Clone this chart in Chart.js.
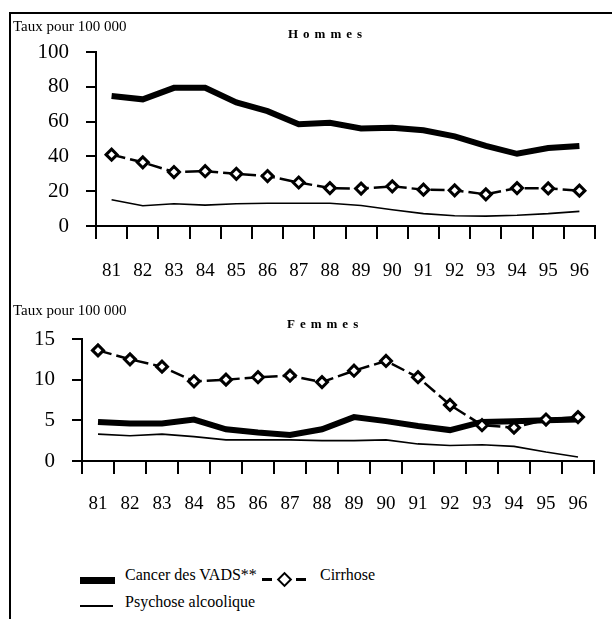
<!DOCTYPE html>
<html>
<head>
<meta charset="utf-8">
<script src="https://cdn.jsdelivr.net/npm/chart.js@4/dist/chart.umd.min.js"></script>
<style>
  body { margin: 0; background: #fff; }
  #page { position: relative; width: 612px; height: 619px; overflow: hidden; font-family: "Liberation Serif", "Times New Roman", serif; color: #000; }
  #frame { position: absolute; left: 9px; top: 12px; width: 620px; height: 620px; border-top: 2px solid #000; border-left: 2px solid #000; }
  canvas { position: absolute; left: 0; }
  .unit { position: absolute; left: 13px; font-size: 15px; line-height: 18px; }
  .title { position: absolute; font-size: 13px; font-weight: bold; letter-spacing: 5px; line-height: 15px; }
  .leg { position: absolute; font-size: 16px; line-height: 18px; }
  .sym { position: absolute; background: #000; }
</style>
</head>
<body>
<div id="page">
  <div id="frame"></div>
  <canvas id="hommesChart" style="top:0px"></canvas>
  <canvas id="femmesChart" style="top:290px"></canvas>

  <div class="unit" style="top:17px">Taux pour 100 000</div>
  <div class="title" style="left:288px; top:26px">Hommes</div>
  <div class="unit" style="top:301px">Taux pour 100 000</div>
  <div class="title" style="left:287px; top:316px">Femmes</div>

  <div class="sym" style="left:80px; top:577px; width:35px; height:7px"></div>
  <div class="leg" style="left:125px; top:566px">Cancer des VADS**</div>
  <div class="sym" style="left:262px; top:578px; width:10px; height:3px"></div>
  <div style="position:absolute; left:279px; top:574px; width:7px; height:7px; border:2.5px solid #000; background:#fff; transform:rotate(45deg)"></div>
  <div class="sym" style="left:296px; top:578px; width:10px; height:3px"></div>
  <div class="leg" style="left:320px; top:566px">Cirrhose</div>
  <div class="sym" style="left:80px; top:605px; width:33px; height:2px"></div>
  <div class="leg" style="left:125px; top:593px">Psychose alcoolique</div>
</div>

<script>
const years = ["81", "82", "83", "84", "85", "86", "87", "88", "89", "90", "91", "92", "93", "94", "95", "96"];

// Hommes
const hommesCancer = [74.7, 72.8, 79.4, 79.4, 71, 66, 58.5, 59.3, 56, 56.5, 55, 51.5, 46, 41.5, 44.8, 46];
const hommesCirrhose = [41, 36.6, 31, 31.5, 30, 28.7, 25, 21.8, 21.5, 22.8, 20.9, 20.5, 18.2, 21.8, 21.6, 20.3];
const hommesPsychose = [15.1, 11.6, 12.8, 12, 12.8, 13.1, 13.1, 13.1, 11.8, 9.3, 7.1, 5.9, 5.7, 6.2, 7.1, 8.4];
const hommesTicks = [0, 20, 40, 60, 80, 100];

// Femmes
const femmesCancer = [4.8, 4.6, 4.6, 5.1, 3.9, 3.5, 3.2, 3.9, 5.4, 4.9, 4.3, 3.8, 4.8, 4.9, 5.0, 5.1];
const femmesCirrhose = [13.6, 12.5, 11.6, 9.8, 10.0, 10.3, 10.5, 9.7, 11.1, 12.3, 10.3, 6.9, 4.4, 4.1, 5.1, 5.4];
const femmesPsychose = [3.3, 3.1, 3.3, 3.0, 2.6, 2.6, 2.6, 2.5, 2.5, 2.6, 2.1, 1.9, 2.0, 1.8, 1.1, 0.5];
const femmesTicks = [0, 5, 10, 15];

const serif = "'Liberation Serif', 'Times New Roman', serif";

function makeChart(id, height, cancer, cirrhose, psychose, yTicks, area) {
  let canvas = document.getElementById(id);
  canvas.width = 612;
  canvas.height = height;
  canvas.style.width = "612px";
  canvas.style.height = height + "px";

  return new Chart(canvas, {
    type: "line",
    data: {
      labels: years,
      datasets: [
        {
          label: "Psychose alcoolique",
          data: psychose,
          borderColor: "#000",
          borderWidth: 1.6,
          pointRadius: 0,
          order: 3
        },
        {
          label: "Cancer des VADS**",
          data: cancer,
          borderColor: "#000",
          borderWidth: 6,
          pointRadius: 0,
          order: 2
        },
        {
          label: "Cirrhose",
          data: cirrhose,
          borderColor: "#000",
          borderWidth: 2.5,
          borderDash: [14, 5],
          pointStyle: "rectRot",
          pointRadius: 5.5,
          pointBorderWidth: 3,
          pointBackgroundColor: "#fff",
          pointBorderColor: "#000",
          order: 1
        }
      ]
    },
    options: {
      responsive: false,
      animation: false,
      devicePixelRatio: 1,
      layout: {
        padding: { top: area.top, right: 612 - area.right, left: 0, bottom: 0 }
      },
      plugins: {
        legend: { display: false },
        tooltip: { enabled: false }
      },
      scales: {
        x: {
          offset: true,
          grid: {
            offset: true,
            drawOnChartArea: false,
            drawTicks: true,
            tickLength: 13,
            color: "#000",
            lineWidth: 2
          },
          border: { color: "#000", width: 2 },
          ticks: {
            color: "#000",
            font: { family: serif, size: 19 },
            padding: area.xPad,
            maxRotation: 0,
            autoSkip: false
          },
          afterFit: scale => { scale.height = height - area.bottom; }
        },
        y: {
          min: 0,
          max: yTicks[yTicks.length - 1],
          afterBuildTicks: scale => { scale.ticks = yTicks.map(v => ({ value: v })); },
          grid: {
            drawOnChartArea: false,
            drawTicks: true,
            tickLength: 10,
            color: "#000",
            lineWidth: 2
          },
          border: { color: "#000", width: 2 },
          ticks: {
            color: "#000",
            font: { family: serif, size: 21 },
            padding: 17
          },
          afterFit: scale => { scale.width = area.left; }
        }
      }
    }
  });
}

const hommesChart = makeChart("hommesChart", 290, hommesCancer, hommesCirrhose, hommesPsychose, hommesTicks,
  { left: 96, right: 595, top: 52, bottom: 226, xPad: 21 });

const femmesChart = makeChart("femmesChart", 230, femmesCancer, femmesCirrhose, femmesPsychose, femmesTicks,
  { left: 82, right: 594, top: 49, bottom: 171, xPad: 19 });
</script>
</body>
</html>
